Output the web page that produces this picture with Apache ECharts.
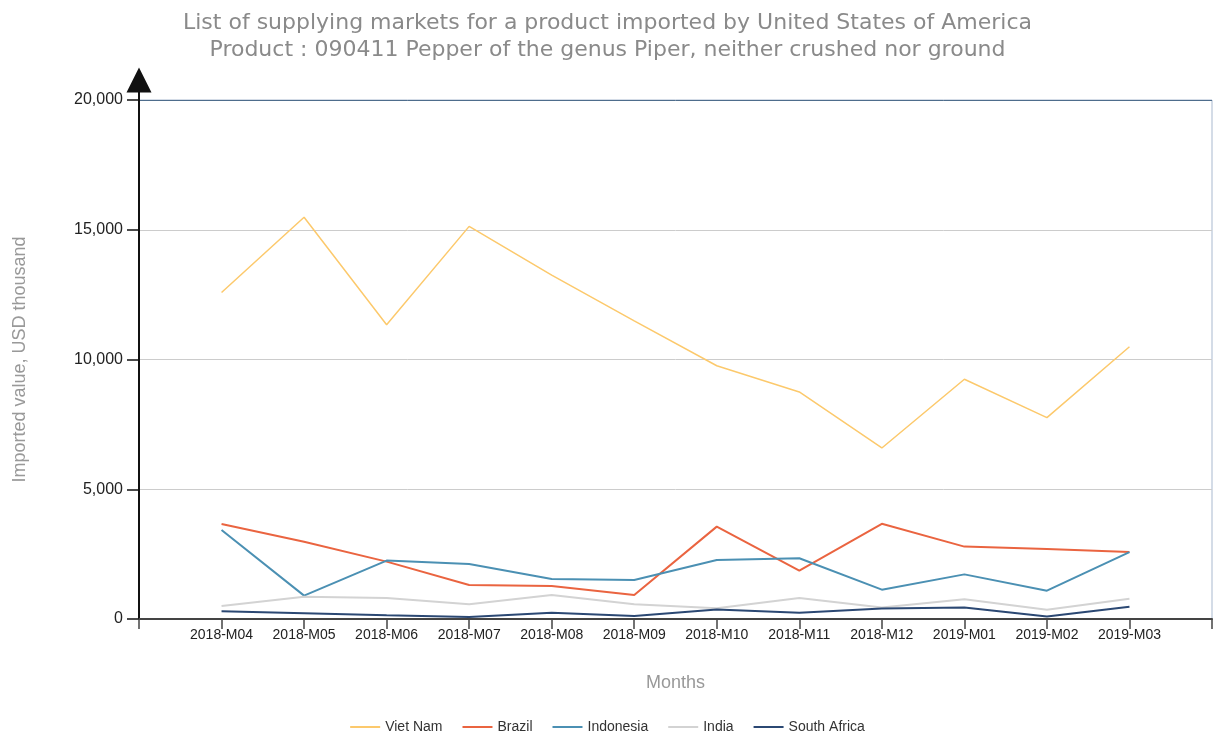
<!DOCTYPE html>
<html><head><meta charset="utf-8">
<script src="https://cdn.jsdelivr.net/npm/echarts@6/dist/echarts.min.js"></script>
<style>html,body{margin:0;padding:0;background:#fff}#c{width:1215px;height:736px}</style>
</head><body><div id="c"></div>
<script>
var months = ['2018-M04','2018-M05','2018-M06','2018-M07','2018-M08','2018-M09','2018-M10','2018-M11','2018-M12','2019-M01','2019-M02','2019-M03'];
var vietNam = [12580,15480,11340,15130,13250,11490,9760,8750,6590,9240,7760,10490];
var brazil = [3660,2980,2210,1310,1270,925,3560,1860,3670,2790,2700,2580];
var indonesia = [3430,900,2250,2120,1540,1500,2270,2340,1130,1720,1090,2580];
var india = [500,860,810,565,925,565,410,810,440,760,360,780];
var southAfrica = [295,220,140,80,245,115,370,240,400,440,100,475];
var yTicks = [0,5000,10000,15000,20000];

function pts(arr){ return arr.map(function(v,i){ return [i+1, v]; }); }
var chart = echarts.init(document.getElementById('c'));
var mk = function(name, data, color, w){
  return {name:name, type:'line', data:pts(data), symbol:'none', lineStyle:{color:color, width:w}, itemStyle:{color:color}};
};
chart.setOption({
  animation:false,
  title:{
    text:'List of supplying markets for a product imported by United States of America\nProduct : 090411 Pepper of the genus Piper, neither crushed nor ground',
    left:'center', top:5,
    textStyle:{fontFamily:'DejaVu Sans', fontSize:22, fontWeight:'normal', color:'#8a8a8a', lineHeight:27}
  },
  legend:{
    bottom:-3, left:'center', icon:'rect', itemWidth:30, itemHeight:2, itemGap:20,
    textStyle:{fontFamily:'Liberation Sans', fontSize:14, color:'#333'},
    data:['Viet Nam','Brazil','Indonesia','India','South Africa']
  },
  graphic:[{type:'line', shape:{x1:139, y1:88, x2:139, y2:101}, style:{stroke:'#111', lineWidth:2}, silent:true}],
  grid:{left:139, right:2, top:100, bottom:117, show:true, borderColor:'#a9b9cf', borderWidth:1},
  xAxis:{
    type:'value', min:0, max:13, interval:1,
    name:'Months', nameLocation:'middle', nameGap:55,
    nameTextStyle:{fontFamily:'Liberation Sans', fontSize:18, color:'#999'},
    axisLine:{lineStyle:{color:'#444', width:2}},
    axisTick:{length:10, lineStyle:{color:'#444', width:1.5}},
    splitLine:{show:false},
    axisLabel:{fontFamily:'Liberation Sans', fontSize:14, color:'#222', margin:9,
      formatter:function(v){ return (v>=1 && v<=months.length) ? months[v-1] : ''; }}
  },
  yAxis:{
    type:'value', min:0, max:20000, interval:5000,
    name:'Imported value, USD thousand', nameLocation:'middle', nameGap:110,
    nameTextStyle:{fontFamily:'Liberation Sans', fontSize:18, color:'#999'},
    axisLine:{show:true, symbol:['none','triangle'], symbolSize:[25,25], symbolOffset:[0,20], lineStyle:{color:'#111', width:2}},
    axisTick:{show:true, length:12, lineStyle:{color:'#111', width:1.5}},
    splitLine:{show:true, lineStyle:{color:['#cccccc','#cccccc','#cccccc','#cccccc','#4e6d8c'], width:[1]}},
    axisLabel:{fontFamily:'Liberation Sans', fontSize:16, color:'#222', margin:16,
      formatter:function(v){ return yTicks.indexOf(v)>=0 ? v.toLocaleString('en-US') : ''; }}
  },
  series:[
    mk('Viet Nam', vietNam, '#fcc96c', 1.5),
    mk('Brazil', brazil, '#ea6440', 2),
    mk('Indonesia', indonesia, '#4b90b3', 2),
    mk('India', india, '#d3d3d3', 2),
    mk('South Africa', southAfrica, '#2b4873', 2)
  ]
});
</script></body></html>
